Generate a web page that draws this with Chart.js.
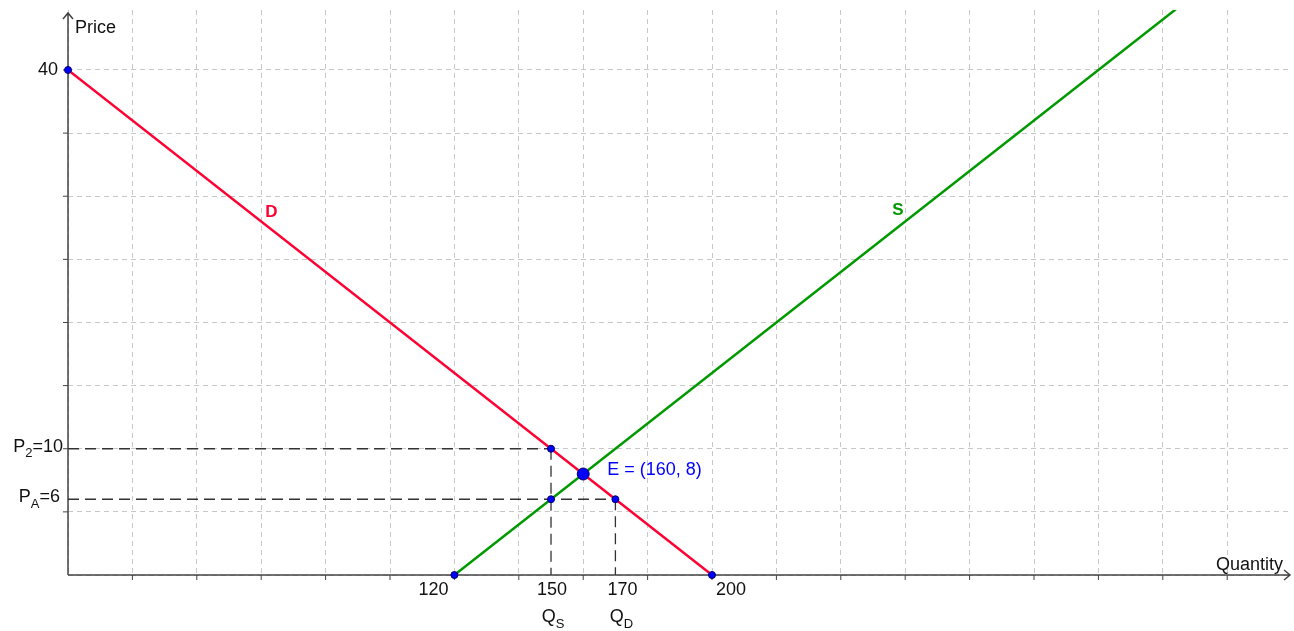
<!DOCTYPE html>
<html>
<head>
<meta charset="utf-8">
<script src="https://cdn.jsdelivr.net/npm/chart.js@4.4.1/dist/chart.umd.min.js"></script>
<style>
  body { margin: 0; background: #fff; }
  canvas { display: block; }
</style>
</head>
<body>
<canvas id="myChart" width="1294" height="631"></canvas>
<script>
// data
const demand = [{x: 0, y: 40}, {x: 200, y: 0}];
const supply = [{x: 120, y: 0}, {x: 350, y: 46}];
const equilibrium = [{x: 160, y: 8}];
const markedPoints = [
  {x: 0, y: 40}, {x: 200, y: 0}, {x: 120, y: 0},
  {x: 150, y: 10}, {x: 150, y: 6}, {x: 170, y: 6}
];
const priceGuides = [
  [{x: 0, y: 10}, {x: 150, y: 10}],
  [{x: 0, y: 6}, {x: 170, y: 6}],
  [{x: 150, y: 10}, {x: 150, y: 0}],
  [{x: 170, y: 6}, {x: 170, y: 0}]
];
const quantityTicks = [120, 150, 170, 200];
const quantityTickLabels = ['120', '150', '170', '200'];
const quantitySubLabels = [[150, 'Q', 'S'], [170, 'Q', 'D']];
const priceTicks = [40, 10, 6];
const priceTickLabels = [['40', '', ''], ['P', '2', '=10'], ['P', 'A', '=6']];

// label nudges (GeoGebra style placement)
const qLabelDx = [-21, 1, 7, 19];
const qSubDx = [2, 6];
const FONT = '"Liberation Sans", Arial, sans-serif';
const FS = 18, SUBFS = 13;

const ctx = document.getElementById('myChart').getContext('2d');

function drawParts(c, parts, x, y, align) {
  const [main, sub, rest] = parts;
  c.font = FS + 'px ' + FONT;
  const w1 = c.measureText(main).width;
  const w3 = c.measureText(rest).width;
  c.font = SUBFS + 'px ' + FONT;
  const w2 = c.measureText(sub).width;
  const total = w1 + w2 + w3;
  let sx = align === 'right' ? x - total : x - total / 2;
  c.textAlign = 'left';
  c.textBaseline = 'middle';
  c.font = FS + 'px ' + FONT;
  c.fillText(main, sx, y);
  sx += w1;
  c.font = SUBFS + 'px ' + FONT;
  c.fillText(sub, sx, y + 7);
  sx += w2;
  c.font = FS + 'px ' + FONT;
  c.fillText(rest, sx, y);
}

// keep only round grid values (drop the min/max edge ticks)
function roundTicks(step) {
  return function(scale) {
    scale.ticks = scale.ticks.filter(t => Math.abs(t.value / step - Math.round(t.value / step)) < 1e-6);
  };
}

const axesPlugin = {
  id: 'axesPlugin',
  beforeDatasetsDraw(chart) {
    const c = chart.ctx;
    const a = chart.chartArea;
    const xs = chart.scales.x, ys = chart.scales.y;
    const x0 = xs.getPixelForValue(0), y0 = ys.getPixelForValue(0);
    c.save();
    c.strokeStyle = '#444';
    c.lineWidth = 1.5;
    c.beginPath();
    c.moveTo(x0, y0); c.lineTo(x0, a.top + 3);
    c.moveTo(x0, y0); c.lineTo(a.right, y0);
    // arrows
    c.moveTo(x0 - 5, a.top + 9); c.lineTo(x0, a.top + 3); c.lineTo(x0 + 5, a.top + 9);
    c.moveTo(a.right - 6, y0 - 5); c.lineTo(a.right, y0); c.lineTo(a.right - 6, y0 + 5);
    c.stroke();
    // small axis ticks
    c.lineWidth = 1;
    c.beginPath();
    xs.ticks.forEach(t => {
      if (t.value <= 0) return;
      const px = xs.getPixelForValue(t.value);
      c.moveTo(px, y0); c.lineTo(px, y0 + 5);
    });
    ys.ticks.forEach(t => {
      if (t.value <= 0) return;
      const py = ys.getPixelForValue(t.value);
      c.moveTo(x0 - 5, py); c.lineTo(x0, py);
    });
    c.stroke();
    c.restore();
  },
  afterDraw(chart) {
    const c = chart.ctx;
    const a = chart.chartArea;
    const xs = chart.scales.x, ys = chart.scales.y;
    const x0 = xs.getPixelForValue(0), y0 = ys.getPixelForValue(0);
    c.save();
    c.fillStyle = '#111';
    c.font = FS + 'px ' + FONT;
    c.textBaseline = 'middle';
    c.textAlign = 'left';
    c.fillText('Price', x0 + 7, a.top + 18);
    c.textAlign = 'right';
    c.fillText('Quantity', a.right - 7, y0 - 10);
    // price tick labels
    priceTicks.forEach((v, i) => {
      const py = ys.getPixelForValue(v);
      const dx = i === 0 ? -10 : (i === 1 ? -5 : -8);
      const dy = i === 0 ? 0 : -2;
      drawParts(c, priceTickLabels[i], x0 + dx, py + dy, 'right');
    });
    // quantity tick labels
    c.font = FS + 'px ' + FONT;
    c.textAlign = 'center';
    quantityTicks.forEach((v, i) => {
      const px = xs.getPixelForValue(v);
      c.fillText(quantityTickLabels[i], px + qLabelDx[i], y0 + 15);
    });
    quantitySubLabels.forEach((s, i) => {
      const px = xs.getPixelForValue(s[0]);
      drawParts(c, [s[1], s[2], ''], px + qSubDx[i], y0 + 42, 'center');
    });
    // curve labels
    c.font = 'bold 17px ' + FONT;
    c.textAlign = 'center';
    c.fillStyle = '#ff0033';
    c.fillText('D', xs.getPixelForValue(63.2), ys.getPixelForValue(28.75));
    c.fillStyle = '#009900';
    c.fillText('S', xs.getPixelForValue(257.7), ys.getPixelForValue(28.9));
    c.fillStyle = '#0000ff';
    c.font = FS + 'px ' + FONT;
    c.textAlign = 'left';
    const e = equilibrium[0];
    c.fillText('E = (160, 8)', xs.getPixelForValue(e.x) + 24, ys.getPixelForValue(e.y) - 4);
    c.restore();
  }
};

const guideSets = priceGuides.map(g => ({
  data: g,
  showLine: true,
  borderColor: '#333',
  borderWidth: 1.3,
  borderDash: [11, 6],
  pointRadius: 0,
  clip: false,
  order: 5
}));

new Chart(ctx, {
  type: 'scatter',
  data: {
    datasets: [
      {
        data: equilibrium,
        backgroundColor: '#0000ff',
        borderColor: '#000066',
        borderWidth: 1,
        pointRadius: 6,
        order: 0
      },
      {
        data: markedPoints,
        backgroundColor: '#0000ff',
        borderColor: '#000066',
        borderWidth: 1,
        pointRadius: 3.5,
        clip: false,
        order: 1
      },
      {
        data: demand,
        showLine: true,
        borderColor: '#ff0033',
        borderWidth: 2.5,
        pointRadius: 0,
        order: 3
      },
      {
        data: supply,
        showLine: true,
        borderColor: '#009900',
        borderWidth: 2.5,
        pointRadius: 0,
        order: 3
      },
      ...guideSets
    ]
  },
  options: {
    responsive: false,
    animation: false,
    layout: { autoPadding: false, padding: { left: 68, right: 4, top: 10, bottom: 56 } },
    plugins: { legend: { display: false }, tooltip: { enabled: false } },
    scales: {
      x: {
        type: 'linear',
        min: 0,
        max: 379.5,
        afterBuildTicks: roundTicks(20),
        ticks: { display: false, stepSize: 20 },
        grid: { color: '#c8c8c8', lineWidth: 1, drawTicks: false },
        border: { display: false, dash: [5, 4] }
      },
      y: {
        type: 'linear',
        min: 0,
        max: 44.75,
        afterBuildTicks: roundTicks(5),
        ticks: { display: false, stepSize: 5 },
        grid: { color: '#c8c8c8', lineWidth: 1, drawTicks: false },
        border: { display: false, dash: [5, 4] }
      }
    }
  },
  plugins: [axesPlugin]
});
</script>
</body>
</html>
